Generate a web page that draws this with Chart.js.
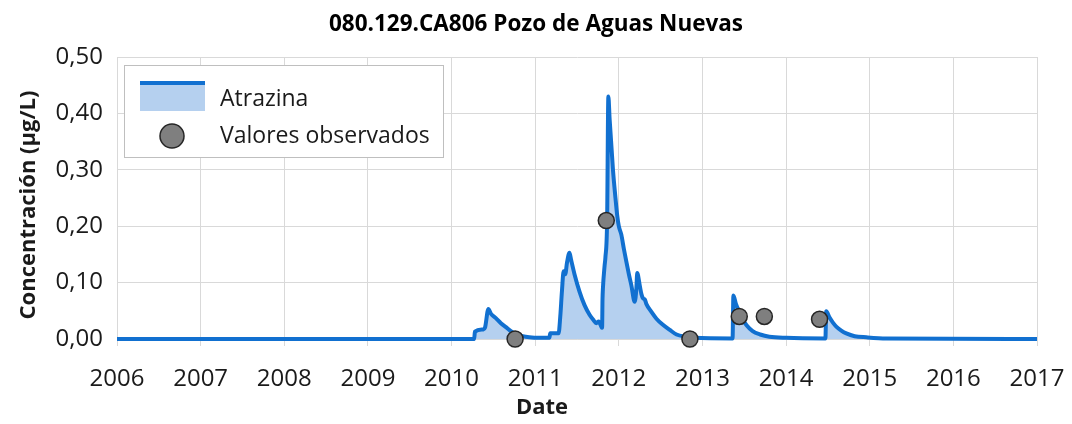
<!DOCTYPE html>
<html>
<head>
<meta charset="utf-8">
<script src="https://cdn.jsdelivr.net/npm/chart.js@4/dist/chart.umd.min.js"></script>
<style>
  html, body { margin: 0; padding: 0; background: #ffffff; }
  #wrap { width: 1072px; height: 424px; position: relative; }
</style>
</head>
<body>
<div id="wrap"><canvas id="c"></canvas></div>
<script>
// Simulated atrazine concentration (decimal year, µg/L)
const simDates = [
  2006.00, 2010.27, 2010.28, 2010.38, 2010.40, 2010.44, 2010.47, 2010.53, 2010.59, 2010.65,
  2010.71, 2010.77, 2010.85, 2010.93, 2011.05, 2011.17, 2011.18, 2011.28, 2011.30, 2011.32,
  2011.34, 2011.36, 2011.38, 2011.41, 2011.43, 2011.47, 2011.53, 2011.59, 2011.65, 2011.70,
  2011.73, 2011.76, 2011.79, 2011.80, 2011.805, 2011.81, 2011.83, 2011.84, 2011.86, 2011.875,
  2011.89, 2011.93, 2011.96, 2011.98, 2012.00, 2012.03, 2012.06, 2012.09, 2012.12, 2012.15,
  2012.19, 2012.21, 2012.22, 2012.25, 2012.27, 2012.29, 2012.31, 2012.33, 2012.39, 2012.45,
  2012.52, 2012.61, 2012.69, 2012.80, 2012.90, 2013.36, 2013.37, 2013.40, 2013.44, 2013.48,
  2013.53, 2013.60, 2013.69, 2013.80, 2014.00, 2014.47, 2014.48, 2014.52, 2014.56, 2014.60,
  2014.66, 2014.72, 2014.82, 2014.96, 2015.20, 2017.00
];
const simAtrazina = [
  0.000, 0.000, 0.013, 0.017, 0.020, 0.053, 0.045, 0.037, 0.028, 0.021,
  0.014, 0.009, 0.005, 0.003, 0.002, 0.002, 0.010, 0.010, 0.040, 0.085,
  0.120, 0.115, 0.135, 0.153, 0.140, 0.115, 0.084, 0.060, 0.043, 0.033,
  0.028, 0.031, 0.022, 0.020, 0.070, 0.090, 0.130, 0.145, 0.210, 0.430,
  0.390, 0.300, 0.250, 0.220, 0.200, 0.185, 0.160, 0.137, 0.115, 0.095,
  0.066, 0.090, 0.117, 0.095, 0.080, 0.072, 0.070, 0.062, 0.048, 0.036,
  0.026, 0.016, 0.008, 0.004, 0.002, 0.001, 0.077, 0.062, 0.048, 0.035,
  0.024, 0.014, 0.008, 0.004, 0.002, 0.001, 0.049, 0.038, 0.029, 0.022,
  0.015, 0.010, 0.005, 0.003, 0.001, 0.000
];

// Observed samples
const obsDates  = [2010.76, 2011.85, 2012.85, 2013.44, 2013.74, 2014.40];
const obsValues = [0.000,   0.210,   0.000,   0.040,   0.040,   0.035];

// Axis ticks
const yearTicks = [2006, 2007, 2008, 2009, 2010, 2011, 2012, 2013, 2014, 2015, 2016, 2017];
const concTicks = [0.0, 0.1, 0.2, 0.3, 0.4, 0.5];

// Titles
const chartTitle = '080.129.CA806 Pozo de Aguas Nuevas';
const xTitle = 'Date';
const yTitle = 'Concentración (µg/L)';

const FONT = '"Open Sans", "DejaVu Sans", sans-serif';
const LINE_BLUE = '#1170d0';
const FILL_BLUE = '#b5d0ef';

// Chart title and axis titles, placed relative to the whole canvas
const chartTexts = {
  id: 'chartTexts',
  afterDraw(chart) {
    const ctx = chart.ctx;
    const area = chart.chartArea;
    ctx.save();
    ctx.textAlign = 'center';
    ctx.textBaseline = 'middle';
    ctx.fillStyle = '#000000';
    ctx.font = 'bold 22.5px ' + FONT;
    ctx.fillText(chartTitle, 536, 25);
    ctx.fillStyle = '#1a1a1a';
    ctx.font = 'bold 22px ' + FONT;
    ctx.fillText(xTitle, 542, 408);
    ctx.translate(29, (area.top + area.bottom) / 2 + 7);
    ctx.rotate(-Math.PI / 2);
    ctx.fillText(yTitle, 0, 0);
    ctx.restore();
  }
};

// Boxed legend inside the plot area, upper left
const boxLegend = {
  id: 'boxLegend',
  afterDraw(chart) {
    const ctx = chart.ctx;
    const area = chart.chartArea;
    const x0 = area.left + 7, y0 = area.top + 8, w = 319, h = 92;
    ctx.save();
    ctx.fillStyle = '#ffffff';
    ctx.fillRect(x0, y0, w, h);
    ctx.strokeStyle = '#bfbfbf';
    ctx.lineWidth = 1;
    ctx.strokeRect(x0 + 0.5, y0 + 0.5, w, h);

    const line = chart.data.datasets[1];
    const pts = chart.data.datasets[0];
    // area swatch
    ctx.fillStyle = line.backgroundColor;
    ctx.fillRect(x0 + 16, y0 + 18, 65, 28);
    ctx.fillStyle = line.borderColor;
    ctx.fillRect(x0 + 16, y0 + 16, 65, 4);
    // marker swatch
    ctx.beginPath();
    ctx.arc(x0 + 48, y0 + 71, 12, 0, Math.PI * 2);
    ctx.fillStyle = pts.pointBackgroundColor;
    ctx.fill();
    ctx.lineWidth = 1.5;
    ctx.strokeStyle = pts.pointBorderColor;
    ctx.stroke();

    ctx.fillStyle = '#1a1a1a';
    ctx.font = '23px ' + FONT;
    ctx.textBaseline = 'middle';
    ctx.textAlign = 'left';
    ctx.fillText(line.label, x0 + 96, y0 + 34);
    ctx.fillText(pts.label, x0 + 96, y0 + 71);
    ctx.restore();
  }
};

new Chart(document.getElementById('c'), {
  type: 'line',
  data: {
    datasets: [
      {
        label: 'Valores observados',
        data: obsDates.map((d, i) => ({ x: d, y: obsValues[i] })),
        showLine: false,
        pointRadius: 8,
        pointHoverRadius: 8,
        pointBackgroundColor: '#7f7f7f',
        pointBorderColor: '#262626',
        pointBorderWidth: 1.5,
        clip: false,
        order: 0
      },
      {
        label: 'Atrazina',
        data: simDates.map((d, i) => ({ x: d, y: simAtrazina[i] })),
        borderColor: LINE_BLUE,
        backgroundColor: FILL_BLUE,
        borderWidth: 4,
        fill: 'origin',
        pointRadius: 0,
        cubicInterpolationMode: 'monotone',
        borderJoinStyle: 'round',
        clip: false,
        order: 1
      }
    ]
  },
  options: {
    responsive: true,
    maintainAspectRatio: false,
    animation: false,
    events: [],
    layout: { padding: { left: 0, right: 35, top: 57, bottom: 0 } },
    plugins: {
      legend: { display: false },
      tooltip: { enabled: false },
      title: { display: false }
    },
    scales: {
      x: {
        type: 'linear',
        min: yearTicks[0],
        max: yearTicks[yearTicks.length - 1],
        afterBuildTicks(scale) {
          scale.ticks = yearTicks.map(v => ({ value: v }));
        },
        afterFit(scale) {
          scale.height = 85;
          scale.paddingLeft = 0;
          scale.paddingRight = 0;
        },
        grid: { color: '#d9d9d9', lineWidth: 1, tickLength: 7, drawTicks: true },
        border: { color: '#d9d9d9' },
        ticks: {
          color: '#1a1a1a',
          font: { family: FONT, size: 24 },
          padding: 19,
          maxRotation: 0,
          autoSkip: false,
          callback: v => String(v)
        }
      },
      y: {
        min: concTicks[0],
        max: concTicks[concTicks.length - 1],
        afterBuildTicks(scale) {
          scale.ticks = concTicks.map(v => ({ value: v }));
        },
        afterFit(scale) {
          scale.width = 117;
          scale.paddingTop = 0;
          scale.paddingBottom = 0;
        },
        grid: { color: '#d9d9d9', lineWidth: 1, drawTicks: false },
        border: { color: '#d9d9d9' },
        ticks: {
          color: '#1a1a1a',
          font: { family: FONT, size: 24 },
          padding: 14,
          callback: v => v.toFixed(2).replace('.', ',')
        }
      }
    }
  },
  plugins: [boxLegend, chartTexts]
});
</script>
</body>
</html>
